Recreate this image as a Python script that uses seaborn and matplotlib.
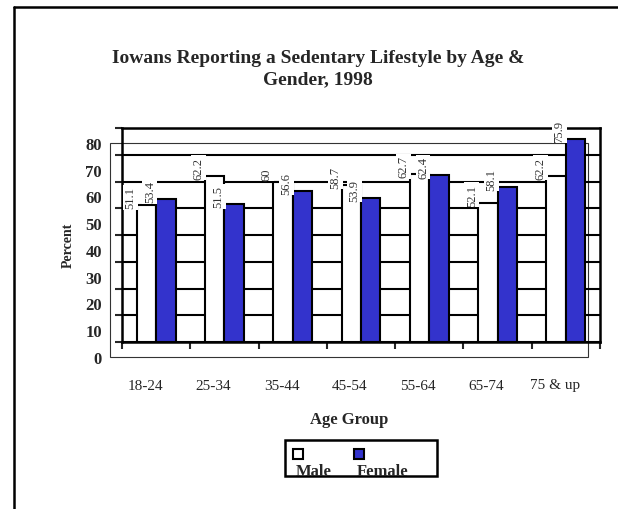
import numpy as np
import pandas as pd
import matplotlib
matplotlib.use("Agg")
import matplotlib.pyplot as plt
import matplotlib.transforms as mtransforms
from matplotlib.patches import Rectangle
from matplotlib.lines import Line2D
import seaborn as sns

# data
age_groups = ["18-24", "25-34", "35-44", "45-54", "55-64", "65-74", "75 & up"]
male = [51.1, 62.2, 60, 58.7, 62.7, 52.1, 62.2]
female = [53.4, 51.5, 56.6, 53.9, 62.4, 58.1, 75.9]
male_labels = ["51.1", "62.2", "60", "58.7", "62.7", "52.1", "62.2"]
female_labels = ["53.4", "51.5", "56.6", "53.9", "62.4", "58.1", "75.9"]
y_ticks = [0, 10, 20, 30, 40, 50, 60, 70, 80]

df = pd.DataFrame({
    "age": age_groups * 2,
    "pct": male + female,
    "sex": ["Male"] * len(male) + ["Female"] * len(female),
})

sns.set_theme(style="white")
plt.rcParams["font.family"] = ["Liberation Serif", "DejaVu Serif"]

W, H = 618, 510
fig = plt.figure(figsize=(W / 100, H / 100), dpi=100)

def fx(px):
    return px / W

def fy(py):
    return 1 - py / H

# plot area (back wall)
ax = fig.add_axes([fx(122), fy(343), fx(600) - fx(122), fy(129) - fy(343)])
ax.patch.set_visible(False)

blue = "#3333CC"
sns.barplot(data=df, x="age", y="pct", hue="sex", order=age_groups,
            hue_order=["Male", "Female"],
            palette={"Male": "white", "Female": blue}, saturation=1,
            edgecolor="black", linewidth=1.5, width=0.57, legend=False, ax=ax)

ax.set_ylim(0, 80)
ax.set_xlim(-0.5, len(age_groups) - 0.5)
ax.set_yticks(y_ticks)
ax.set_axisbelow(True)
ax.yaxis.grid(True, color="black", lw=1.5)
ax.tick_params(axis="y", length=5, width=1.5, direction="out", labelleft=False, left=True)
ax.set_xticks(np.arange(len(age_groups)))
ax.set_xticks(np.arange(-0.5, len(age_groups)), minor=True)
ax.tick_params(axis="x", which="major", length=0, labelbottom=False)
ax.tick_params(axis="x", which="minor", length=5, width=1.5, direction="out", bottom=True)
for s in ax.spines.values():
    s.set_visible(True)
    s.set_color("black")
    s.set_linewidth(1.8)
ax.set_xlabel("")
ax.set_ylabel("")

# front plane outline (3D look)
fig.patches.append(Rectangle((fx(110), fy(358)), fx(588) - fx(110), fy(144) - fy(358),
                             transform=fig.transFigure, fill=False, lw=0.8,
                             edgecolor="#333333", zorder=-1))

# y tick labels, shifted like the front plane
ytrans = mtransforms.offset_copy(ax.get_yaxis_transform(), fig=fig, x=-20, y=-17, units="dots")
for v in y_ticks:
    ax.text(0, v, str(v), transform=ytrans, ha="right", va="center",
            fontsize=12, fontweight="bold", clip_on=False)

# x category labels
xtrans = mtransforms.offset_copy(ax.get_xaxis_transform(), fig=fig, x=-11, y=-43, units="dots")
for i, lab in enumerate(age_groups):
    ax.text(i, 0, lab, transform=xtrans, ha="center", va="center", fontsize=11, clip_on=False)

# value labels
ltrans = mtransforms.offset_copy(ax.transData, fig=fig, x=-16, y=8, units="dots")
for cont, labels in zip(ax.containers, [male_labels, female_labels]):
    for p, lab in zip(cont, labels):
        ax.text(p.get_x() + p.get_width() / 2, p.get_height(), lab, transform=ltrans,
                rotation=90, ha="center", va="center", fontsize=9, color="#333333",
                bbox=dict(facecolor="white", edgecolor="none", pad=1), clip_on=False, zorder=5)

# titles
fig.text(fx(318), fy(69), "Iowans Reporting a Sedentary Lifestyle by Age &\nGender, 1998",
         ha="center", va="center", fontsize=14, fontweight="bold", linespacing=1.3)
fig.text(fx(68), fy(245), "Percent", rotation=90, ha="center", va="center",
         fontsize=10, fontweight="bold")
fig.text(fx(349), fy(420), "Age Group", ha="center", va="center",
         fontsize=12, fontweight="bold")

# legend
fig.patches.append(Rectangle((fx(293), fy(460)), fx(303) - fx(293), fy(450) - fy(460),
                             transform=fig.transFigure, facecolor="white", edgecolor="black", lw=1.5))
fig.patches.append(Rectangle((fx(354), fy(460)), fx(364) - fx(354), fy(450) - fy(460),
                             transform=fig.transFigure, facecolor=blue, edgecolor="black", lw=1.5))
fig.text(fx(296), fy(476), "Male", ha="left", va="baseline", fontsize=12, fontweight="bold")
fig.text(fx(357), fy(476), "Female", ha="left", va="baseline", fontsize=12, fontweight="bold")
fig.patches.append(Rectangle((fx(285), fy(477)), fx(437) - fx(285), fy(441) - fy(477),
                             transform=fig.transFigure, fill=False, edgecolor="black", lw=1.8, zorder=3))

# outer frame (left and top edges)
fig.lines.append(Line2D([fx(14), fx(14)], [fy(8), 0], transform=fig.transFigure, color="black", lw=1.8))
fig.lines.append(Line2D([fx(14), 1], [fy(8), fy(8)], transform=fig.transFigure, color="black", lw=1.8))

fig.savefig("out.png", dpi=100, facecolor="white")
